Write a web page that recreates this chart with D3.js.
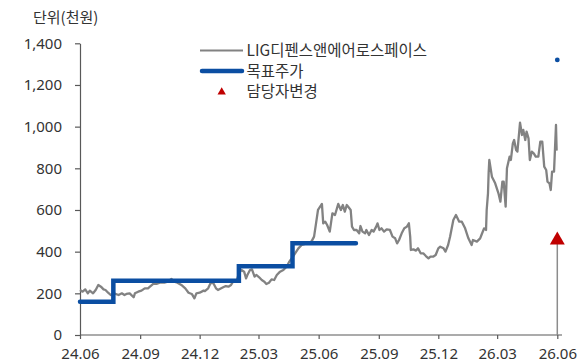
<!DOCTYPE html>
<html><head><meta charset="utf-8">
<script src="https://cdn.jsdelivr.net/npm/d3@7/dist/d3.min.js"></script>
<style>
html,body{margin:0;padding:0;background:#fff;}
svg{display:block;}
</style></head>
<body>
<svg id="chart" width="587" height="363"></svg>
<script>
// ---- data ----
const unitLabel = "단위(천원)";
const seriesNames = ["LIG디펜스앤에어로스페이스", "목표주가", "담당자변경"];
const yTicks = [0, 200, 400, 600, 800, 1000, 1200, 1400];
const xTickLabels = ["24.06","24.09","24.12","25.03","25.06","25.09","25.12","26.03","26.06"];

const priceDates = [
"2024-06-01","2024-06-05","2024-06-09","2024-06-13","2024-06-16","2024-06-21","2024-06-25","2024-06-29","2024-07-03","2024-07-07",
"2024-07-10","2024-07-14","2024-07-18","2024-07-23","2024-07-30","2024-08-04","2024-08-08","2024-08-11","2024-08-16","2024-08-22",
"2024-08-24","2024-08-29","2024-09-03","2024-09-08","2024-09-13","2024-09-16","2024-09-21","2024-09-26","2024-10-01","2024-10-08",
"2024-10-13","2024-10-19","2024-10-23","2024-10-28","2024-11-03","2024-11-09","2024-11-14","2024-11-19","2024-11-23","2024-11-26",
"2024-12-01","2024-12-07","2024-12-09","2024-12-14","2024-12-18","2024-12-22","2024-12-26","2024-12-29","2025-01-03","2025-01-06",
"2025-01-10","2025-01-14","2025-01-18","2025-01-21","2025-01-27","2025-01-30","2025-02-03","2025-02-07","2025-02-10","2025-02-12",
"2025-02-16","2025-02-19","2025-02-23","2025-02-26","2025-03-02","2025-03-06","2025-03-10","2025-03-13","2025-03-17","2025-03-21",
"2025-03-25","2025-03-29","2025-04-03","2025-04-08","2025-04-13","2025-04-17","2025-04-21","2025-04-26","2025-05-01","2025-05-06",
"2025-05-14","2025-05-21","2025-05-25","2025-05-28","2025-05-31","2025-06-06","2025-06-08","2025-06-11","2025-06-14","2025-06-18",
"2025-06-22","2025-06-26","2025-07-01","2025-07-05","2025-07-08","2025-07-11","2025-07-14","2025-07-18","2025-07-20","2025-07-22",
"2025-07-25","2025-07-29","2025-08-02","2025-08-04","2025-08-07","2025-08-11","2025-08-13","2025-08-17","2025-08-21","2025-08-24",
"2025-08-28","2025-08-30","2025-09-02","2025-09-05","2025-09-09","2025-09-13","2025-09-18","2025-09-22","2025-09-26","2025-09-29",
"2025-10-02","2025-10-06","2025-10-10","2025-10-14","2025-10-17","2025-10-19","2025-10-20","2025-10-24","2025-10-28","2025-10-31",
"2025-11-04","2025-11-08","2025-11-12","2025-11-16","2025-11-19","2025-11-23","2025-11-27","2025-12-01","2025-12-04","2025-12-09",
"2025-12-12","2025-12-16","2025-12-19","2025-12-24","2025-12-28","2026-01-02","2026-01-06","2026-01-11","2026-01-16","2026-01-21",
"2026-01-23","2026-01-29","2026-02-03","2026-02-05","2026-02-09","2026-02-12","2026-02-13","2026-02-15","2026-02-16","2026-02-17",
"2026-02-21","2026-02-26","2026-03-03","2026-03-06","2026-03-09","2026-03-11","2026-03-14","2026-03-16","2026-03-20","2026-03-22",
"2026-03-25","2026-03-27","2026-03-30","2026-04-01","2026-04-05","2026-04-08","2026-04-10","2026-04-13","2026-04-15","2026-04-18",
"2026-04-20","2026-04-23","2026-04-26","2026-04-29","2026-05-03","2026-05-06","2026-05-09","2026-05-12","2026-05-15","2026-05-17",
"2026-05-20","2026-05-22","2026-05-24","2026-05-27","2026-05-30","2026-05-31"
];
const priceValues = [
216,208,219,200,213,200,216,240,232,219,
216,203,192,200,192,200,192,197,200,181,
200,208,213,224,224,232,245,245,251,251,
256,269,256,251,240,224,203,197,176,200,
203,213,211,224,251,248,224,216,224,229,
235,232,240,256,264,296,312,304,272,288,
312,315,280,288,277,264,256,245,251,267,
264,288,304,312,328,352,368,392,416,432,
440,448,472,536,600,629,536,544,528,496,
584,576,629,600,624,592,624,608,600,520,
504,504,488,523,496,488,504,480,504,496,
520,536,504,512,496,507,504,472,464,440,
456,488,512,520,536,472,408,411,405,416,
392,392,379,368,376,376,384,416,424,416,
400,432,472,552,576,544,544,512,464,432,
456,448,464,480,512,504,600,680,780,840,
760,728,680,640,736,736,616,800,856,840,
920,936,888,880,1019,960,984,936,976,944,
840,880,872,856,856,928,928,808,792,736,
728,696,784,784,1008,885
];

const targetDates = ["2024-06-01","2024-07-22","2025-01-30","2025-04-22","2025-07-28"];
const targetValues = [160, 260, 330, 440, 440];
const newTargetDate = "2026-06-01";
const newTargetValue = 1320;
const analystChangeDate = "2026-06-01";
const analystChangeValue = 455;

// ---- chart ----
const parse = d3.timeParse("%Y-%m-%d");
const parseTick = d3.timeParse("%y.%m");
const svg = d3.select("#chart");
const x = d3.scaleTime().domain([parseTick("24.06"), parseTick("26.06")]).range([80, 557.3]);
const y = d3.scaleLinear().domain([0, 1400]).range([335, 43.3]);

const numFont = "'Noto Sans', 'DejaVu Sans', sans-serif";
const krFont = "'Noto Sans CJK KR', 'Noto Sans', sans-serif";
const axisColor = "#595959";
const textColor = "#333";

// y axis
const yAxis = svg.append("g").attr("transform", "translate(80,0)")
  .call(d3.axisLeft(y).tickValues(yTicks).tickFormat(d3.format(",")).tickSize(5).tickSizeOuter(0).tickPadding(13));
yAxis.selectAll("path,line").attr("stroke", axisColor).attr("stroke-width", 1.2);
yAxis.selectAll("text").attr("font-family", numFont).attr("font-size", 15).attr("fill", textColor);

// x axis
const xAxis = svg.append("g").attr("transform", "translate(0,335)")
  .call(d3.axisBottom(x).tickValues(xTickLabels.map(parseTick)).tickFormat(d3.timeFormat("%y.%m")).tickSize(4).tickSizeOuter(0).tickPadding(9));
xAxis.select(".domain").attr("d", "M80,0H562");
xAxis.selectAll("path,line").attr("stroke", axisColor).attr("stroke-width", 1.2);
xAxis.selectAll("text").attr("font-family", numFont).attr("font-size", 15).attr("fill", textColor);

// unit label
svg.append("text").attr("x", 33).attr("y", 23).text(unitLabel)
  .attr("font-family", krFont).attr("font-size", 15).attr("fill", textColor);

// price line
const priceData = priceDates.map((d, i) => ({date: parse(d), value: priceValues[i]}));
svg.append("path").datum(priceData)
  .attr("fill", "none").attr("stroke", "#828282").attr("stroke-width", 2.3).attr("stroke-linejoin", "round")
  .attr("d", d3.line().x(d => x(d.date)).y(d => y(d.value)));

// target price step line
const targetData = targetDates.map((d, i) => ({date: parse(d), value: targetValues[i]}));
svg.append("path").datum(targetData)
  .attr("fill", "none").attr("stroke", "#0B4EA2").attr("stroke-width", 4.5).attr("stroke-linecap", "round")
  .attr("d", d3.line().curve(d3.curveStepAfter).x(d => x(d.date)).y(d => y(d.value)));

// new target dot
svg.append("circle").attr("cx", x(parse(newTargetDate))).attr("cy", y(newTargetValue)).attr("r", 2.4).attr("fill", "#0B4EA2");

// analyst change marker
const ax = x(parse(analystChangeDate));
svg.append("line").attr("x1", ax).attr("x2", ax).attr("y1", y(0)).attr("y2", y(analystChangeValue))
  .attr("stroke", "#8c8c8c").attr("stroke-width", 1.5);
svg.append("path").attr("d", d3.symbol(d3.symbolTriangle, 97)())
  .attr("transform", `translate(${ax},${y(analystChangeValue)})`).attr("fill", "#C00000");

// legend
const lg = svg.append("g");
lg.append("line").attr("x1", 200).attr("x2", 243).attr("y1", 50.5).attr("y2", 50.5).attr("stroke", "#828282").attr("stroke-width", 2.2);
lg.append("line").attr("x1", 202).attr("x2", 242).attr("y1", 71).attr("y2", 71).attr("stroke", "#0B4EA2").attr("stroke-width", 4.5).attr("stroke-linecap", "round");
lg.append("path").attr("d", d3.symbol(d3.symbolTriangle, 30)()).attr("transform", "translate(221.7,92)").attr("fill", "#C00000");
[50.5, 71, 91.5].forEach((yy, i) => {
  lg.append("text").attr("x", 246.5).attr("y", yy).attr("dy", "0.36em").text(seriesNames[i])
    .attr("font-family", krFont).attr("font-size", 15.5).attr("fill", textColor);
});
</script>
</body></html>
